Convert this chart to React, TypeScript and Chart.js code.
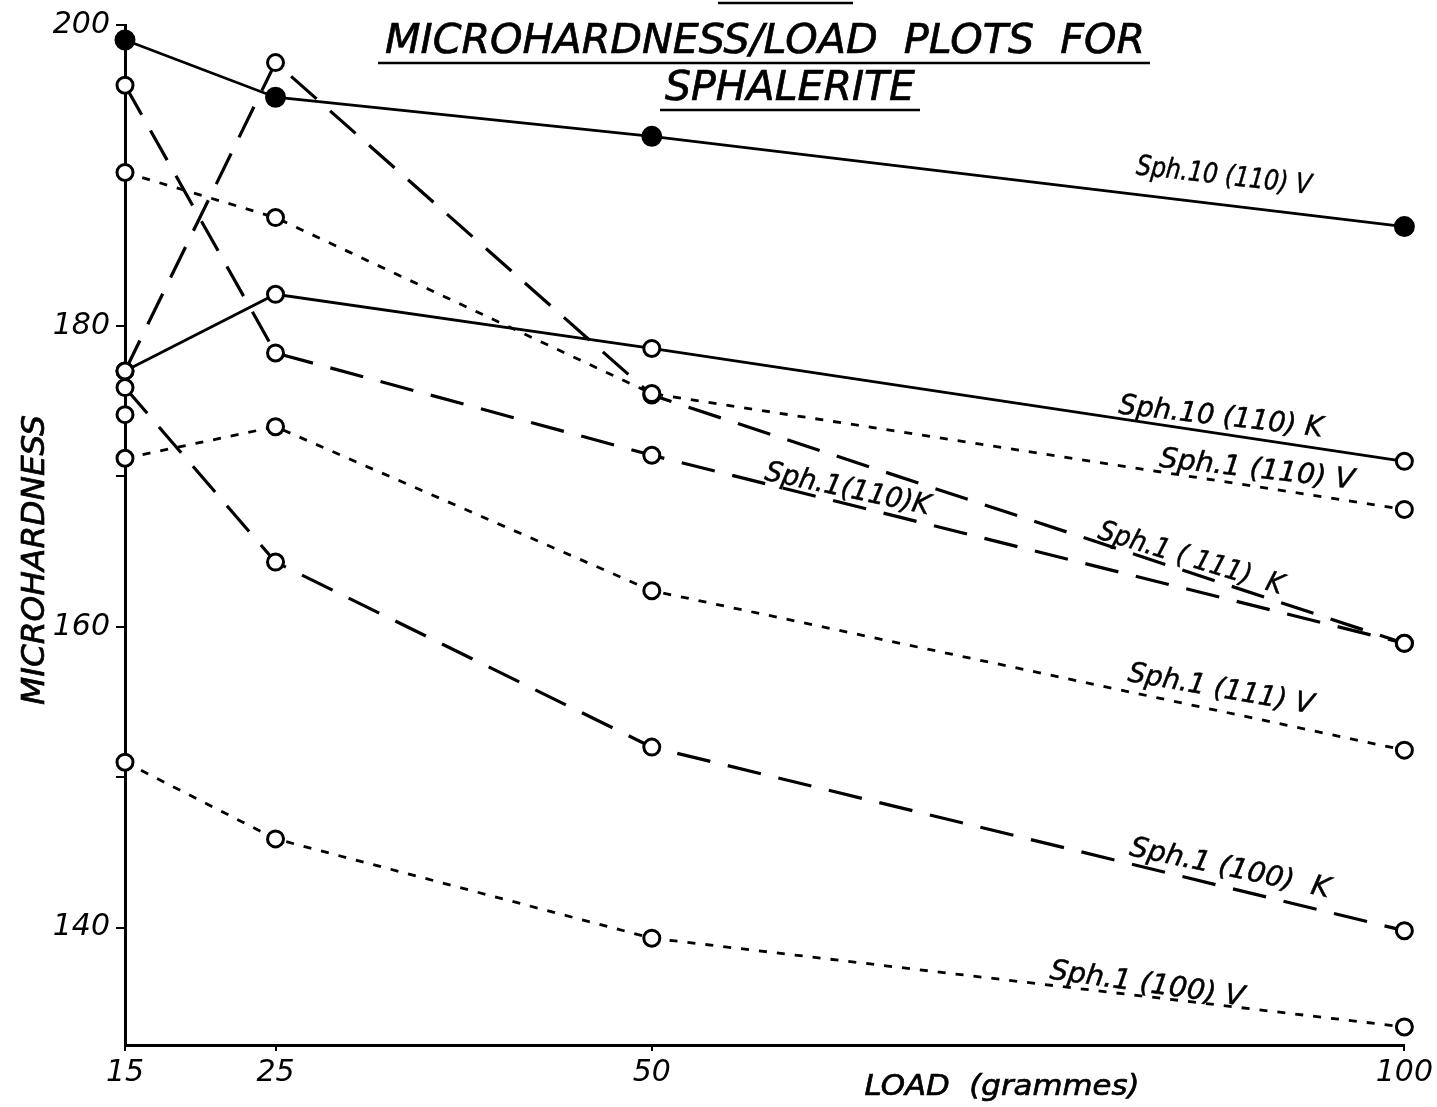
import React, { useEffect, useRef } from "react";
import { Chart, registerables } from "chart.js";

Chart.register(...registerables);

// ---------- data ----------
const loads = [15, 25, 50, 100];
const xTickValues = [15, 25, 50, 100];
const yTickValues = [140, 150, 160, 170, 180, 190, 200];
const yLabelValues = [140, 160, 180, 200];

const sph10_110_V = [199.0, 195.2, 192.6, 186.6];
const sph10_110_K = [177.0, 182.1, 178.5, 171.0];
const sph1_110_V = [190.2, 187.2, 175.5, 167.8];
const sph1_110_K = [196.0, 178.2, 171.4, 158.9];
const sph1_111_K = [177.0, 197.5, 175.4, 158.9];
const sph1_111_V = [171.2, 173.3, 162.4, 151.8];
const sph1_100_K = [175.9, 164.3, 152.0, 139.8];
const sph1_100_V = [151.0, 145.9, 139.3, 133.4];
const loosePoint = [174.1, null, null, null];

const seriesLabels = [
  "Sph.10 (110) V",
  "Sph.10 (110) K",
  "Sph.1 (110) V",
  "Sph.1(110)K",
  "Sph.1 ( 111)  K",
  "Sph.1 (111) V",
  "Sph.1 (100)  K",
  "Sph.1 (100) V",
];

const titleLines = ["MICROHARDNESS/LOAD  PLOTS  FOR", "SPHALERITE"];
const yAxisTitle = "MICROHARDNESS";
const xAxisTitle = "LOAD  (grammes)";

// ---------- styling / placement ----------
const FONT = '"DejaVu Sans", "Liberation Sans", sans-serif';
const SOLID: number[] = [];
const LONG_DASH = [34, 18];
const SHORT_DASH = [8, 10];

// label anchors in data coordinates (load, hardness), rotation in degrees, text width px
const labelPlacement = [
  { x: 88.0, y: 189.9, rot: 6.5, w: 176 },
  { x: 87.8, y: 173.9, rot: 6.5, w: 205 },
  { x: 90.2, y: 170.4, rot: 6.5, w: 196 },
  { x: 63.0, y: 169.1, rot: 12, w: 168 },
  { x: 85.8, y: 164.5, rot: 17, w: 192 },
  { x: 87.8, y: 155.8, rot: 10, w: 188 },
  { x: 88.4, y: 143.9, rot: 12, w: 204 },
  { x: 82.9, y: 136.2, rot: 8, w: 196 },
];

function fitText(
  ctx: CanvasRenderingContext2D,
  text: string,
  x: number,
  y: number,
  font: string,
  width: number,
  rotDeg = 0,
  stroke = 0.7
) {
  ctx.save();
  ctx.font = font;
  const m = ctx.measureText(text).width;
  ctx.translate(x, y);
  ctx.rotate((rotDeg * Math.PI) / 180);
  ctx.scale(width / m, 1);
  ctx.textAlign = "center";
  ctx.textBaseline = "middle";
  ctx.fillStyle = "#000";
  ctx.fillText(text, 0, 0);
  if (stroke > 0) {
    ctx.strokeStyle = "#000";
    ctx.lineWidth = stroke;
    ctx.strokeText(text, 0, 0);
  }
  ctx.restore();
}

function line(ctx: CanvasRenderingContext2D, x1: number, y1: number, x2: number, y2: number, w: number) {
  ctx.save();
  ctx.strokeStyle = "#000";
  ctx.lineWidth = w;
  ctx.beginPath();
  ctx.moveTo(x1, y1);
  ctx.lineTo(x2, y2);
  ctx.stroke();
  ctx.restore();
}

const annotationPlugin = {
  id: "handLettering",
  afterDraw(chart: any) {
    const ctx: CanvasRenderingContext2D = chart.ctx;
    const xs = chart.scales.x;
    const ys = chart.scales.y;

    // title
    line(ctx, 718, 3, 853, 3, 2.5);
    fitText(ctx, titleLines[0], 765, 43, `italic 40px ${FONT}`, 760);
    line(ctx, 378, 63, 1150, 63, 2.5);
    fitText(ctx, titleLines[1], 790, 90, `italic 40px ${FONT}`, 250);
    line(ctx, 660, 110, 920, 110, 2.5);

    // axis titles
    fitText(ctx, yAxisTitle, 36, 560, `italic 32px ${FONT}`, 290, -90);
    fitText(ctx, xAxisTitle, 1002, 1087, `italic 29px ${FONT}`, 275);

    // series labels
    seriesLabels.forEach((t, i) => {
      const p = labelPlacement[i];
      fitText(
        ctx,
        t,
        xs.getPixelForValue(p.x),
        ys.getPixelForValue(p.y),
        `italic 28px ${FONT}`,
        p.w,
        p.rot,
        0.5
      );
    });
  },
};

function ds(data: (number | null)[], dash: number[], filled = false, width = 2.8, showLine = true) {
  return {
    data: loads.map((x, i) => ({ x, y: data[i] })),
    borderColor: "#000",
    borderWidth: width,
    borderDash: dash,
    tension: 0,
    showLine,
    spanGaps: false,
    clip: false as any,
    pointRadius: filled ? 9 : 8,
    pointBorderWidth: 3,
    pointBorderColor: "#000",
    pointBackgroundColor: filled ? "#000" : "#fff",
    pointStyle: "circle",
  };
}

export default function App() {
  const ref = useRef<HTMLCanvasElement>(null);

  useEffect(() => {
    const canvas = ref.current;
    if (!canvas) return;
    const chart = new Chart(canvas, {
      type: "scatter",
      data: {
        datasets: [
          ds(sph10_110_V, SOLID, true, 2.8),
          ds(sph10_110_K, SOLID, false, 2.8),
          ds(sph1_110_V, SHORT_DASH, false, 2.8),
          ds(sph1_110_K, LONG_DASH, false, 3.2),
          ds(sph1_111_K, LONG_DASH, false, 3.2),
          ds(sph1_111_V, SHORT_DASH, false, 2.8),
          ds(sph1_100_K, LONG_DASH, false, 3.2),
          ds(sph1_100_V, SHORT_DASH, false, 2.8),
          ds(loosePoint, SOLID, false, 2.8, false),
        ] as any,
      },
      options: {
        responsive: false,
        animation: false,
        events: [],
        layout: { padding: { top: 25, right: 32, left: 0, bottom: 0 } },
        plugins: {
          legend: { display: false },
          tooltip: { enabled: false },
          title: { display: false },
        },
        scales: {
          x: {
            type: "linear",
            min: 15,
            max: 100,
            afterBuildTicks: (axis: any) => {
              axis.ticks = xTickValues.map((v) => ({ value: v }));
            },
            afterFit: (axis: any) => {
              axis.height = 62;
            },
            border: { display: true, color: "#000", width: 3 },
            grid: {
              drawOnChartArea: false,
              drawTicks: true,
              tickLength: 6,
              color: "#000",
              lineWidth: 2,
            },
            ticks: {
              color: "#000",
              autoSkip: false,
              maxRotation: 0,
              padding: 4,
              font: { family: FONT, size: 30, style: "italic" },
              callback: (v: any) => String(v),
            },
          },
          y: {
            type: "linear",
            min: 132.2,
            max: 200,
            afterBuildTicks: (axis: any) => {
              axis.ticks = yTickValues.map((v) => ({ value: v }));
            },
            afterFit: (axis: any) => {
              axis.width = 125;
            },
            border: { display: true, color: "#000", width: 3 },
            grid: {
              drawOnChartArea: false,
              drawTicks: true,
              tickLength: 9,
              color: "#000",
              lineWidth: 2,
            },
            ticks: {
              color: "#000",
              autoSkip: false,
              padding: 6,
              font: { family: FONT, size: 30, style: "italic" },
              callback: (v: any) => (yLabelValues.includes(Number(v)) ? String(v) : ""),
            },
          },
        },
      } as any,
      plugins: [annotationPlugin],
    });
    return () => chart.destroy();
  }, []);

  return (
    <div
      style={{
        position: "absolute",
        left: 0,
        top: 0,
        width: 1437,
        height: 1107,
        background: "#fff",
      }}
    >
      <canvas ref={ref} width={1437} height={1107} style={{ display: "block", width: 1437, height: 1107 }} />
    </div>
  );
}
